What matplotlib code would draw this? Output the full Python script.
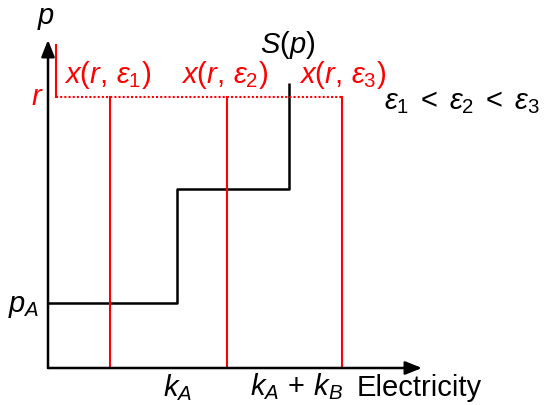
import matplotlib
matplotlib.use("Agg")
import matplotlib.pyplot as plt

plt.rcParams['font.family'] = ['Liberation Sans', 'DejaVu Sans']
plt.rcParams['mathtext.fontset'] = 'custom'
plt.rcParams['mathtext.rm'] = 'Liberation Sans'
plt.rcParams['mathtext.it'] = 'Liberation Sans:italic'
plt.rcParams['mathtext.bf'] = 'Liberation Sans:bold'

# Data (in drawing units: origin at axis corner)
k_A = 129
k_AB = 241
p_A = 65
p_mid = 179
s_top = 285
r = 271
x_eps = [62, 179, 294]
x_eps_labels = [r'$x(r,\,\varepsilon_1)$', r'$x(r,\,\varepsilon_2)$', r'$x(r,\,\varepsilon_3)$']
step_x = [0, k_A, k_A, k_AB, k_AB]
step_y = [p_A, p_A, p_mid, p_mid, s_top]

fig = plt.figure(figsize=(5.44, 4.05), dpi=100)
ax = fig.add_axes([0, 0, 1, 1])
ax.set_xlim(-48, 496)
ax.set_ylim(-37, 368)
ax.axis('off')

# axes arrows
ax.annotate('', xy=(374, 0), xytext=(0, 0),
            arrowprops=dict(arrowstyle='-|>,head_length=1.0,head_width=0.4', color='black', lw=1.8,
                            shrinkA=0, shrinkB=0))
ax.annotate('', xy=(0, 328), xytext=(0, 0),
            arrowprops=dict(arrowstyle='-|>,head_length=1.0,head_width=0.4', color='black', lw=1.8,
                            shrinkA=0, shrinkB=0))

# step supply curve
ax.plot(step_x, step_y, color='black', lw=1.8, solid_capstyle='butt')

# red dotted r line and left marker
ax.plot([8, x_eps[2]], [r, r], color='red', lw=1.5, linestyle=(0, (1, 1)))
ax.plot([8, 8], [r, 323], color='red', lw=1.5)
for xe in x_eps:
    ax.plot([xe, xe], [0, r], color='red', lw=1.5)

fs = 21
label_x = [60, 177, 295]
for lx, lab in zip(label_x, x_eps_labels):
    ax.text(lx, 293, lab, color='red', fontsize=fs, ha='center', va='center')

ax.text(-2, 350, r'$p$', fontsize=fs, ha='center', va='center')
ax.text(-11, r, r'$r$', fontsize=fs, ha='center', va='center', color='red')
ax.text(-24, 62, r'$p_A$', fontsize=fs, ha='center', va='center')
ax.text(130, -20, r'$k_A$', fontsize=fs, ha='center', va='center')
ax.text(249, -19, r'$k_A\,+\,k_B$', fontsize=fs, ha='center', va='center')
ax.text(371, -20, 'Electricity', fontsize=fs, ha='center', va='center')
ax.text(240, 323, r'$S(p)$', fontsize=fs, ha='center', va='center')
ax.text(414, 266, r'$\varepsilon_1\;<\;\varepsilon_2\;<\;\varepsilon_3$', fontsize=fs, ha='center', va='center')

fig.savefig('out.png', dpi=100)
